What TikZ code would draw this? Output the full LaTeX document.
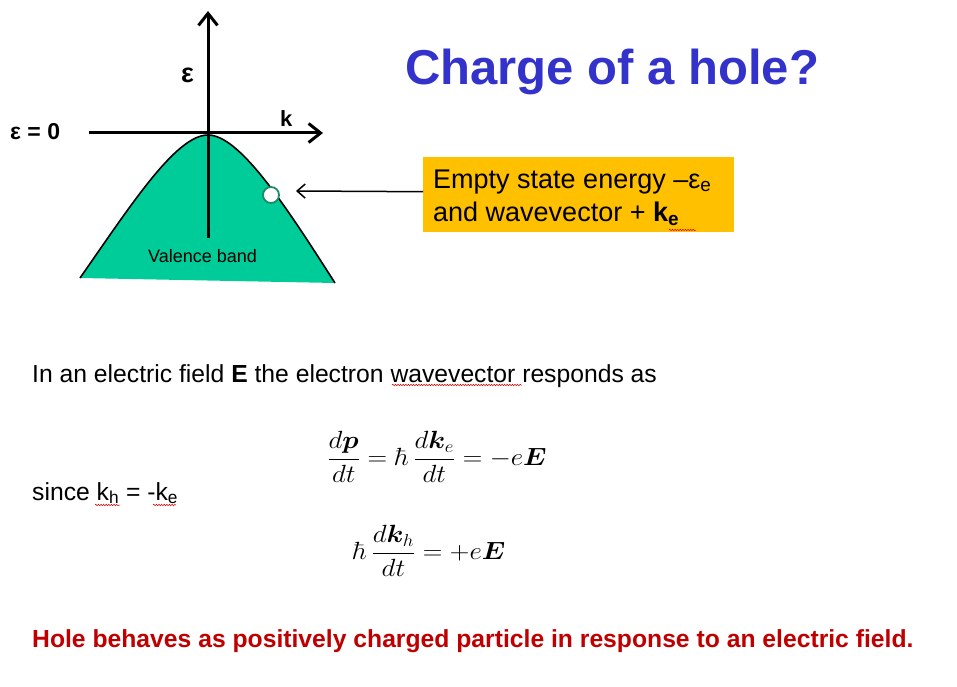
\documentclass[tikz,border=0pt]{standalone}
\usepackage{amsmath}
\usepackage{bm}
\usepackage{graphicx}
\usepackage[no-math]{fontspec}
\setmainfont{Liberation Sans}
\usetikzlibrary{arrows.meta,decorations.pathmorphing}
\definecolor{bandgreen}{HTML}{00CC99}
\definecolor{holegreen}{HTML}{1E8A68}
\definecolor{boxorange}{HTML}{FFC000}
\definecolor{titleblue}{HTML}{3333CC}
\definecolor{darkred}{HTML}{C00000}
\begin{document}
\begin{tikzpicture}[x=1pt,y=-1pt,
  axis/.style={line width=3pt,-{Straight Barb[length=12pt,width=19pt]}},
  ptr/.style={line width=1.5pt,-{Straight Barb[length=8pt,width=14pt]}},
  txt/.style={inner sep=0pt,anchor=base west},
  squig/.style={red!85!black,line width=0.5pt,decorate,decoration={snake,amplitude=0.8pt,segment length=2.6pt}}]
\useasboundingbox (0,0) rectangle (957,687);
% valence band
\fill[bandgreen] (80,278) .. controls (131,205) and (176,135) .. (208,135)
  .. controls (240,135) and (287,208) .. (335,283) -- cycle;
\draw[line width=1.6pt] (80,278) .. controls (131,205) and (176,135) .. (208,135)
  .. controls (240,135) and (287,208) .. (335,283);
% axes
\coordinate (vbot) at (208,238);
\coordinate (vtop) at (208,11);
\coordinate (hleft) at (89,133);
\coordinate (hright) at (323,133);
\draw[axis] (vbot) -- (vtop);
\draw[axis] (hleft) -- (hright);
% hole
\node[circle,fill=white,draw=holegreen,line width=1.8pt,minimum size=16pt,inner sep=0pt] (hole) at (271,195) {};
% labels
\node[txt,font=\bfseries\fontsize{27}{30}\selectfont] (elab) at (181,83) {ε};
\node[txt,font=\bfseries\fontsize{22}{26}\selectfont] (klab) at (280,127) {k};
\node[txt,font=\bfseries\fontsize{23}{26}\selectfont] (ezero) at (10,140) {ε = 0};
\node[txt,font=\fontsize{18}{22}\selectfont] (vb) at (148,262) {Valence band};
% title
\node[txt,font=\bfseries\fontsize{49}{56}\selectfont,text=titleblue] (title) at (405,85) {Charge of a hole?};
% orange box
\node[fill=boxorange,minimum width=311pt,minimum height=75pt,inner sep=0pt,anchor=north west] (box) at (423,157) {};
\node[txt,font=\fontsize{27}{30}\selectfont] (bl1) at (433,188) {Empty state energy –ε\textsubscript{e}};
\node[txt,font=\fontsize{27}{30}\selectfont] (bl2) at (433,221.5) {and wavevector + \textbf{k\textsubscript{e}}};
\coordinate (holept) at (296,191);
\draw[ptr] ([yshift=3pt]box.west) -- (holept);
\draw[squig] (669,230) -- (696,230);
% body
\node[txt,font=\fontsize{24.7}{29}\selectfont] (body) at (32,382) {In an electric field \textbf{E} the electron wavevector responds as};
\draw[squig] (392,385) -- (522,385);
\node[inner sep=0pt,font=\fontsize{25}{30}\selectfont] (eq1) at (437,457) {\scalebox{1.09}[1.0]{$\displaystyle \frac{d\bm{p}}{dt} = \hbar\,\frac{d\bm{k}_e}{dt} = -e\bm{E}$}};
\node[txt,font=\fontsize{24.7}{29}\selectfont] (since) at (32,500) {since k\textsubscript{h} = -k\textsubscript{e}};
\draw[squig] (95,505) -- (120,505);
\draw[squig] (153,505) -- (176,505);
\node[inner sep=0pt,font=\fontsize{25}{30}\selectfont] (eq2) at (429,551) {\scalebox{1.09}[1.0]{$\displaystyle \hbar\,\frac{d\bm{k}_h}{dt} = +e\bm{E}$}};
\node[txt,font=\bfseries\fontsize{24.7}{29}\selectfont,text=darkred] (concl) at (32,647) {Hole behaves as positively charged particle in response to an electric field.};
\end{tikzpicture}
\end{document}
